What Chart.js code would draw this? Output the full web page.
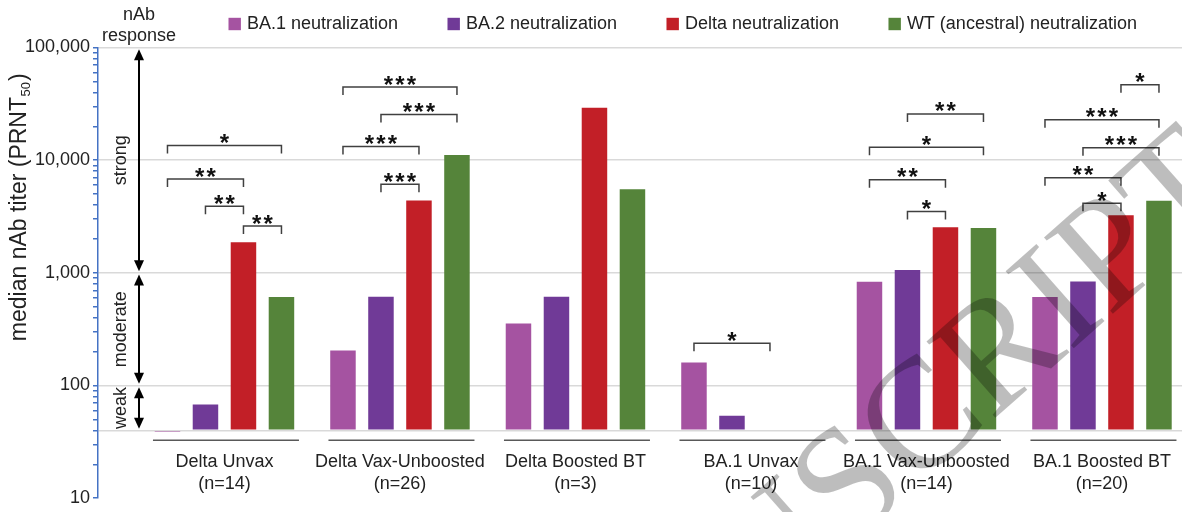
<!DOCTYPE html>
<html>
<head>
<meta charset="utf-8">
<script src="https://cdn.jsdelivr.net/npm/chart.js@4.4.1/dist/chart.umd.min.js"></script>
<style>
  html, body { margin: 0; padding: 0; background: #fff; overflow: hidden; }
</style>
</head>
<body>
<canvas id="titers" width="1182" height="512"></canvas>
<script>
// Datos
const groups = ['Delta Unvax', 'Delta Vax-Unboosted', 'Delta Boosted BT', 'BA.1 Unvax', 'BA.1 Vax-Unboosted', 'BA.1 Boosted BT'];
const groupN = [14, 26, 3, 10, 14, 20];
const seriesNames = ['BA.1 neutralization', 'BA.2 neutralization', 'Delta neutralization', 'WT (ancestral) neutralization'];
const ba1Titer   = [39, 205, 355, 160, 835, 610];
const ba2Titer   = [68, 615, 615, 54, 1060, 840];
const deltaTiter = [1870, 4390, 29200, null, 2540, 3240];
const wtTiter    = [610, 11100, 5520, null, 2500, 4360];
const majorTicks = [10, 100, 1000, 10000, 100000];
const gridValues = [40, 100, 1000, 10000, 100000];
const baseline = 40;

// brackets: [group, bar a, bar b, height (titer), stars]
const brackets = [
  [0, 0, 3, 13500, 1], [0, 0, 2, 6800, 2], [0, 1, 2, 3900, 2], [0, 2, 3, 2600, 2],
  [1, 0, 3, 44500, 3], [1, 1, 3, 25400, 3], [1, 0, 2, 13200, 3], [1, 1, 2, 6100, 3],
  [3, 0, 2, 237, 1],
  [4, 1, 3, 25700, 2], [4, 0, 3, 13000, 1], [4, 0, 2, 6700, 2], [4, 1, 2, 3500, 1],
  [5, 2, 3, 46700, 1], [5, 0, 3, 22800, 3], [5, 1, 3, 12900, 3], [5, 0, 2, 7000, 2], [5, 1, 2, 4150, 1]
];
// response bands: [label, upper titer, lower titer]
const bands = [['strong', 100000, 1000], ['moderate', 1000, 100], ['weak', 100, 40]];

const colors = ['#A553A1', '#703A97', '#C21F27', '#55843A'];
const FONT = '"Liberation Sans", Arial, sans-serif';
const TXT = '#222';

function barX(chart, g, k) {
  const m0 = chart.getDatasetMeta(0).data[g], m1 = chart.getDatasetMeta(1).data[g];
  return m0.x + k * (m1.x - m0.x);
}

function arrow(ctx, x, y1, y2) {
  const h = 11, w = 5;
  ctx.beginPath(); ctx.moveTo(x, y1 + h - 1); ctx.lineTo(x, y2 - h + 1); ctx.stroke();
  ctx.beginPath(); ctx.moveTo(x, y1); ctx.lineTo(x - w, y1 + h); ctx.lineTo(x + w, y1 + h); ctx.closePath(); ctx.fill();
  ctx.beginPath(); ctx.moveTo(x, y2); ctx.lineTo(x - w, y2 - h); ctx.lineTo(x + w, y2 - h); ctx.closePath(); ctx.fill();
}

const extras = {
  id: 'extras',
  afterDatasetsDraw(chart) {
    const { ctx, scales: { x, y } } = chart;
    ctx.save();
    // lineas bajo cada grupo
    ctx.strokeStyle = '#595959'; ctx.lineWidth = 1.5;
    const uy = y.getPixelForValue(baseline) + 10;
    groups.forEach((g, i) => {
      const cx = x.getPixelForValue(i) + 1.5;
      ctx.beginPath(); ctx.moveTo(cx - 73, uy); ctx.lineTo(cx + 73, uy); ctx.stroke();
    });
    // corchetes de significancia
    ctx.strokeStyle = '#404040'; ctx.lineWidth = 1.5;
    ctx.fillStyle = '#111';
    ctx.font = 'bold 24px ' + FONT; ctx.textAlign = 'center'; ctx.textBaseline = 'alphabetic';
    const m = ctx.measureText('*');
    const starMid = (m.actualBoundingBoxAscent - m.actualBoundingBoxDescent) / 2;
    brackets.forEach(([g, a, b, level, stars]) => {
      const xa = barX(chart, g, a), xb = barX(chart, g, b);
      const ly = y.getPixelForValue(level);
      ctx.beginPath(); ctx.moveTo(xa, ly + 8); ctx.lineTo(xa, ly); ctx.lineTo(xb, ly); ctx.lineTo(xb, ly + 8); ctx.stroke();
      const mid = (xa + xb) / 2;
      for (let s = 0; s < stars; s++) {
        ctx.fillText('*', mid + (s - (stars - 1) / 2) * 11.5, ly - 7 + starMid);
      }
    });
    ctx.restore();
  },
  afterDraw(chart) {
    const { ctx, scales: { y } } = chart;
    ctx.save();
    // leyenda
    ctx.font = '18px ' + FONT; ctx.textBaseline = 'middle'; ctx.textAlign = 'left';
    let lx = 228.5;
    chart.data.datasets.forEach(ds => {
      ctx.fillStyle = ds.backgroundColor; ctx.fillRect(lx, 24 - 6.2, 12.4, 12.4);
      ctx.fillStyle = TXT; ctx.fillText(ds.label, lx + 18.4, 24.5);
      lx += 18.4 + ctx.measureText(ds.label).width + 49.5;
    });
    // titulo eje y con subindice
    ctx.save();
    ctx.translate(20, 208); ctx.rotate(-Math.PI / 2);
    const t1 = 'median nAb titer (PRNT', t2 = '50', t3 = ')';
    ctx.font = '23px ' + FONT; const w1 = ctx.measureText(t1).width, w3 = ctx.measureText(t3).width;
    ctx.font = '13px ' + FONT; const w2 = ctx.measureText(t2).width;
    let sx = -(w1 + w2 + w3) / 2;
    ctx.fillStyle = TXT;
    ctx.font = '23px ' + FONT; ctx.fillText(t1, sx, 0);
    ctx.font = '13px ' + FONT; ctx.fillText(t2, sx + w1 + 0.5, 6);
    ctx.font = '23px ' + FONT; ctx.fillText(t3, sx + w1 + w2 + 1.5, 0);
    ctx.restore();
    // respuesta nAb
    ctx.font = '18px ' + FONT;
    ctx.textAlign = 'center'; ctx.fillStyle = TXT;
    ctx.fillText('nAb', 139, 15);
    ctx.fillText('response', 139, 36.5);
    ctx.strokeStyle = '#000'; ctx.fillStyle = '#000'; ctx.lineWidth = 2;
    bands.forEach(([label, hi, lo]) => {
      const y1 = y.getPixelForValue(hi) + 1.7, y2 = y.getPixelForValue(lo) - 1.7;
      arrow(ctx, 139, y1, y2);
      ctx.save();
      ctx.translate(121, (y1 + y2) / 2); ctx.rotate(-Math.PI / 2);
      ctx.fillStyle = TXT; ctx.fillText(label, 0, 0);
      ctx.restore();
    });
    // marca de agua
    ctx.save();
    ctx.translate(1246, 196); ctx.rotate(-41.5 * Math.PI / 180);
    ctx.font = '157px "Liberation Serif", "Times New Roman", serif';
    ctx.textAlign = 'right'; ctx.textBaseline = 'alphabetic';
    ctx.fillStyle = 'rgba(0,0,0,0.26)';
    ctx.fillText('ACCEPTED MANUSCRIPT', 0, 0);
    ctx.restore();
    ctx.restore();
  }
};

const allSeries = [ba1Titer, ba2Titer, deltaTiter, wtTiter];

new Chart(document.getElementById('titers').getContext('2d'), {
  type: 'bar',
  data: {
    labels: groups.map((g, i) => i),
    datasets: allSeries.map((vals, k) => ({
      label: seriesNames[k],
      data: vals.slice(),
      backgroundColor: colors[k],
      base: baseline,
      categoryPercentage: 0.866,
      barPercentage: 0.671
    }))
  },
  options: {
    responsive: false,
    animation: false,
    layout: { padding: { top: 47.5, bottom: 11, left: 0, right: 0 } },
    plugins: { legend: { display: false }, tooltip: { enabled: false } },
    scales: {
      x: {
        type: 'linear', min: -0.7206, max: 5.456, offset: false,
        position: { y: baseline },
        afterBuildTicks: s => { s.ticks = groups.map((g, i) => ({ value: i })); },
        afterFit: s => { s.paddingLeft = 0; s.paddingRight = 0; },
        ticks: {
          autoSkip: false, maxRotation: 0, padding: 21,
          font: { family: FONT, size: 18 }, color: TXT,
          callback: v => [groups[v], '(n=' + groupN[v] + ')']
        },
        grid: { display: false, drawTicks: false, offset: false },
        border: { display: false }
      },
      y: {
        type: 'logarithmic', min: 10, max: 100000,
        afterFit: s => { s.width = 98; },
        afterBuildTicks: s => {
          const t = [];
          for (let e = 1; e < 5; e++) for (let k = 1; k < 10; k++) t.push({ value: k * Math.pow(10, e) });
          t.push({ value: 100000 });
          s.ticks = t;
        },
        ticks: {
          autoSkip: false, padding: 3,
          font: { family: FONT, size: 18 }, color: TXT,
          callback: v => majorTicks.includes(v) ? v.toLocaleString('en-US') : ''
        },
        grid: {
          color: c => (c.tick && gridValues.includes(c.tick.value)) ? '#d9d9d9' : 'rgba(0,0,0,0)',
          lineWidth: 1.5,
          tickColor: '#4472C4', tickLength: 5, tickWidth: 1.5
        },
        border: { color: '#4472C4', width: 1.5 }
      }
    }
  },
  plugins: [extras]
});
</script>
</body>
</html>
